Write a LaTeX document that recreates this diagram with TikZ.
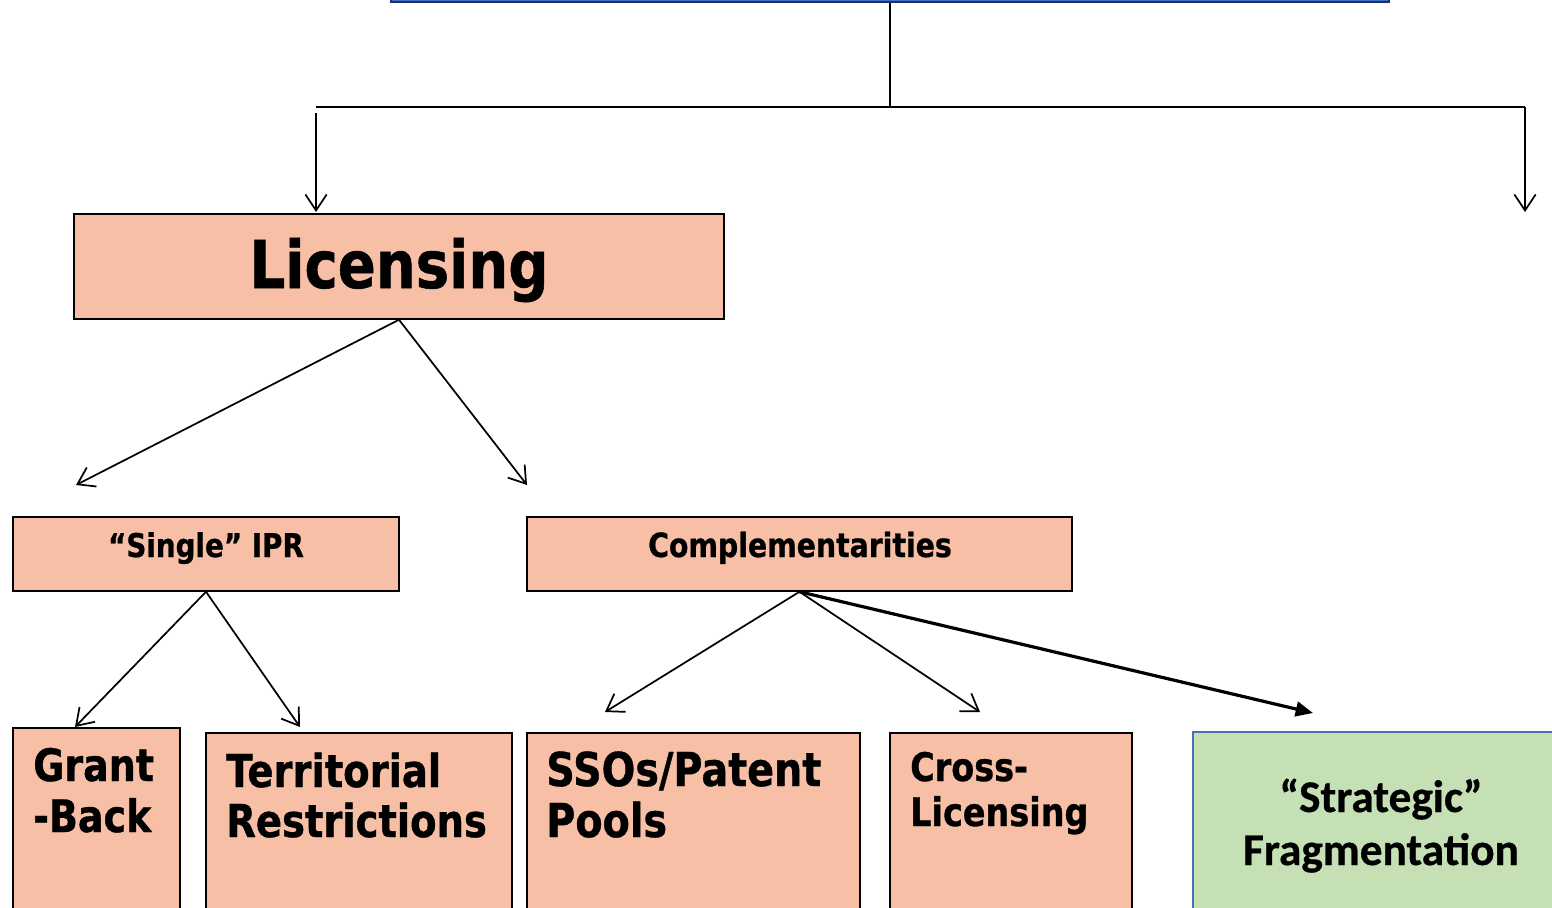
\documentclass[tikz,border=0pt]{standalone}
\usepackage{fontspec}
\usetikzlibrary{arrows.meta,fit}
\newfontfamily\tahb{DejaVu Sans Bold}[FakeStretch=0.85, FakeBold=0.8]
\newfontfamily\carb{Carlito Bold}[FakeBold=0.6]
\definecolor{peach}{HTML}{F7C0A6}
\definecolor{leaf}{HTML}{C5E0B4}
\definecolor{edgeblue}{HTML}{4A6FB5}
\definecolor{topblue}{HTML}{3F6FC6}
\definecolor{navy}{HTML}{1F2F6A}
\tikzset{
  box/.style={draw=black, fill=peach, line width=1.1pt, inner sep=0pt},
  greenbox/.style={draw=edgeblue, fill=leaf, line width=1.5pt, inner sep=0pt},
  topbox/.style={draw=navy, fill=topblue, line width=1.5pt, inner sep=0pt},
  link/.style={line width=1.3pt},
  openarrow/.style={line width=1.3pt, -{Straight Barb[length=12pt, width=16pt, line width=1.3pt]}},
  boldarrow/.style={line width=2.4pt, -{Triangle[length=13pt, width=11pt]}},
  txt/.style={inner sep=0pt, text=black},
}
\begin{document}
\begin{tikzpicture}[x=0.75pt, y=-0.75pt]
\useasboundingbox (0,0) rectangle (1552,907);
\clip (0,0) rectangle (1552,907);

% top heading box (only its lower edge is in view)
\node[topbox, fit={(391,-30) (1389,2)}] (top) {};

% boxes
\node[box, fit={(74,214) (724,319)}] (lic) {};
\node[box, fit={(13,517) (399,591)}] (single) {};
\node[box, fit={(527,517) (1072,591)}] (comp) {};
\node[box, fit={(13,728) (180,940)}] (gb) {};
\node[box, fit={(206,733) (512,940)}] (tr) {};
\node[box, fit={(527,733) (860,940)}] (sso) {};
\node[box, fit={(890,733) (1132,940)}] (cl) {};
\node[greenbox, fit={(1193,732) (1570,940)}] (sf) {};

% labels
\node[txt, anchor=base] (licT) at (399,288) {\tahb\fontsize{49.5}{50}\selectfont Licensing};
\node[txt, anchor=base] (singleT) at (206,557) {\tahb\fontsize{24.5}{25}\selectfont “Single” IPR};
\node[txt, anchor=base] (compT) at (800,557) {\tahb\fontsize{25}{25}\selectfont Complementarities};
\node[txt, anchor=base west] (gbA) at (33,781) {\tahb\fontsize{33.5}{34}\selectfont Grant};
\node[txt, anchor=base west] (gbB) at (33,832) {\tahb\fontsize{33.5}{34}\selectfont -Back};
\node[txt, anchor=base west] (trA) at (226,787) {\tahb\fontsize{34}{35}\selectfont Territorial};
\node[txt, anchor=base west] (trB) at (226,837) {\tahb\fontsize{34}{35}\selectfont Restrictions};
\node[txt, anchor=base west] (ssoA) at (546,786) {\tahb\fontsize{35}{36}\selectfont SSOs/Patent};
\node[txt, anchor=base west] (ssoB) at (546,837) {\tahb\fontsize{35}{36}\selectfont Pools};
\node[txt, anchor=base west] (clA) at (910,781) {\tahb\fontsize{29.5}{30}\selectfont Cross-};
\node[txt, anchor=base west] (clB) at (910,826) {\tahb\fontsize{29.5}{30}\selectfont Licensing};
\node[txt, anchor=base] (sfA) at (1381,812) {\carb\fontsize{34}{35}\selectfont “Strategic”};
\node[txt, anchor=base] (sfB) at (1381,865) {\carb\fontsize{34}{35}\selectfont Fragmentation};

% connector end points
\coordinate (bus) at (890,107);
\coordinate (busL) at (316,107);
\coordinate (busR) at (1525,107);
\coordinate (dropL) at (316,113);
\coordinate (endL) at (316,212);
\coordinate (endR) at (1525,212);
\coordinate (licL) at (76,485);
\coordinate (licR) at (527,485);
\coordinate (sgL) at (75,727);
\coordinate (sgR) at (300,727);
\coordinate (cpA) at (605,712);
\coordinate (cpB) at (980,712);
\coordinate (cpC) at (1313,713);

% connectors
\draw[link] (top.south) -- (bus);
\draw[link] (busL) -- (busR);
\draw[openarrow] (dropL) -- (endL);
\draw[openarrow] (busR) -- (endR);
\draw[openarrow] (lic.south) -- (licL);
\draw[openarrow] (lic.south) -- (licR);
\draw[openarrow] (single.south) -- (sgL);
\draw[openarrow] (single.south) -- (sgR);
\draw[openarrow] (comp.south) -- (cpA);
\draw[openarrow] (comp.south) -- (cpB);
\draw[boldarrow] (comp.south) -- (cpC);
\end{tikzpicture}
\end{document}
